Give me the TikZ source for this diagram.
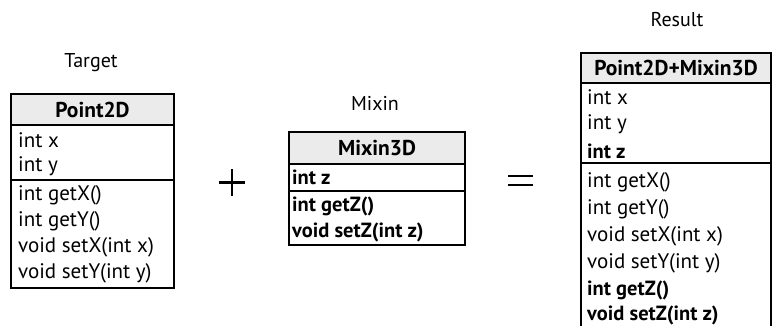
\documentclass[tikz,border=0pt]{standalone}
\usepackage{fontspec}
\setmainfont{PT Sans}
\begin{document}
\begin{tikzpicture}[x=1pt,y=-1pt,
  frame/.style={draw=black,line width=1.6pt,fill=none},
  head/.style={draw=black,line width=1.6pt,fill=black!8},
  sep/.style={draw=black,line width=1.6pt},
  member/.style={anchor=west,inner sep=0pt,font=\fontsize{21}{24}\selectfont},
  bmember/.style={member,font=\fontsize{20.5}{24}\selectfont\bfseries},
  title/.style={anchor=center,inner sep=0pt,font=\fontsize{21.5}{24}\selectfont\bfseries},
  caption/.style={anchor=center,inner sep=0pt,font=\fontsize{20}{24}\selectfont},
  opline/.style={line width=2.2pt,line cap=butt}]
\useasboundingbox (0,0) rectangle (773,326);
\clip (0,0) rectangle (773,326);

% ---- Target: Point2D ----
\node[caption] (capT) at (91,63) {Target};
\filldraw[head] (11,94) rectangle (174,125);
\node[title] (tP) at (92.5,109.5) {Point2D};
\draw[sep] (11,180) -- (174,180);
\node[member] (p1) at (18,140) {int x};
\node[member] (p2) at (18,166) {int y};
\node[member] (p3) at (18,195) {int getX()};
\node[member] (p4) at (18,221) {int getY()};
\node[member] (p5) at (18,247) {void setX(int x)};
\node[member] (p6) at (18,273) {void setY(int y)};
\draw[frame] (11,94) rectangle (174,288);

% ---- plus sign ----
\coordinate (plusc) at (232,182.5);
\draw[opline] ([xshift=-13pt]plusc) -- ([xshift=13pt]plusc);
\draw[opline] ([yshift=-13.5pt]plusc) -- ([yshift=13.5pt]plusc);

% ---- Mixin: Mixin3D ----
\node[caption] (capM) at (375,103) {Mixin};
\filldraw[head] (289,132) rectangle (465,164);
\node[title] (tM) at (377,148.5) {Mixin3D};
\draw[sep] (289,191) -- (465,191);
\node[bmember] (m1) at (292,177) {int z};
\node[bmember] (m2) at (292,206) {int getZ()};
\node[bmember] (m3) at (292,232) {void setZ(int z)};
\draw[frame] (289,132) rectangle (465,245);

% ---- equals sign ----
\coordinate (eqc) at (520.5,180.5);
\draw[opline] ([xshift=-12.5pt,yshift=-4.5pt]eqc) -- ([xshift=12.5pt,yshift=-4.5pt]eqc);
\draw[opline] ([xshift=-12.5pt,yshift=4.5pt]eqc) -- ([xshift=12.5pt,yshift=4.5pt]eqc);

% ---- Result: Point2D+Mixin3D ----
\node[caption] (capR) at (677,20) {Result};
\filldraw[head] (581,53) rectangle (771,83);
\node[title] (tR) at (676,68) {Point2D+Mixin3D};
\draw[sep] (581,163) -- (771,163);
\node[member] (r1) at (587,97) {int x};
\node[member] (r2) at (587,124) {int y};
\node[bmember] (r3) at (587,151) {int z};
\node[member] (r4) at (587,182) {int getX()};
\node[member] (r5) at (587,209) {int getY()};
\node[member] (r6) at (587,236) {void setX(int x)};
\node[member] (r7) at (587,263) {void setY(int y)};
\node[bmember] (r8) at (587,290) {int getZ()};
\node[bmember] (r9) at (587,315) {void setZ(int z)};
\draw[frame] (581,53) rectangle (771,340);
\end{tikzpicture}
\end{document}
